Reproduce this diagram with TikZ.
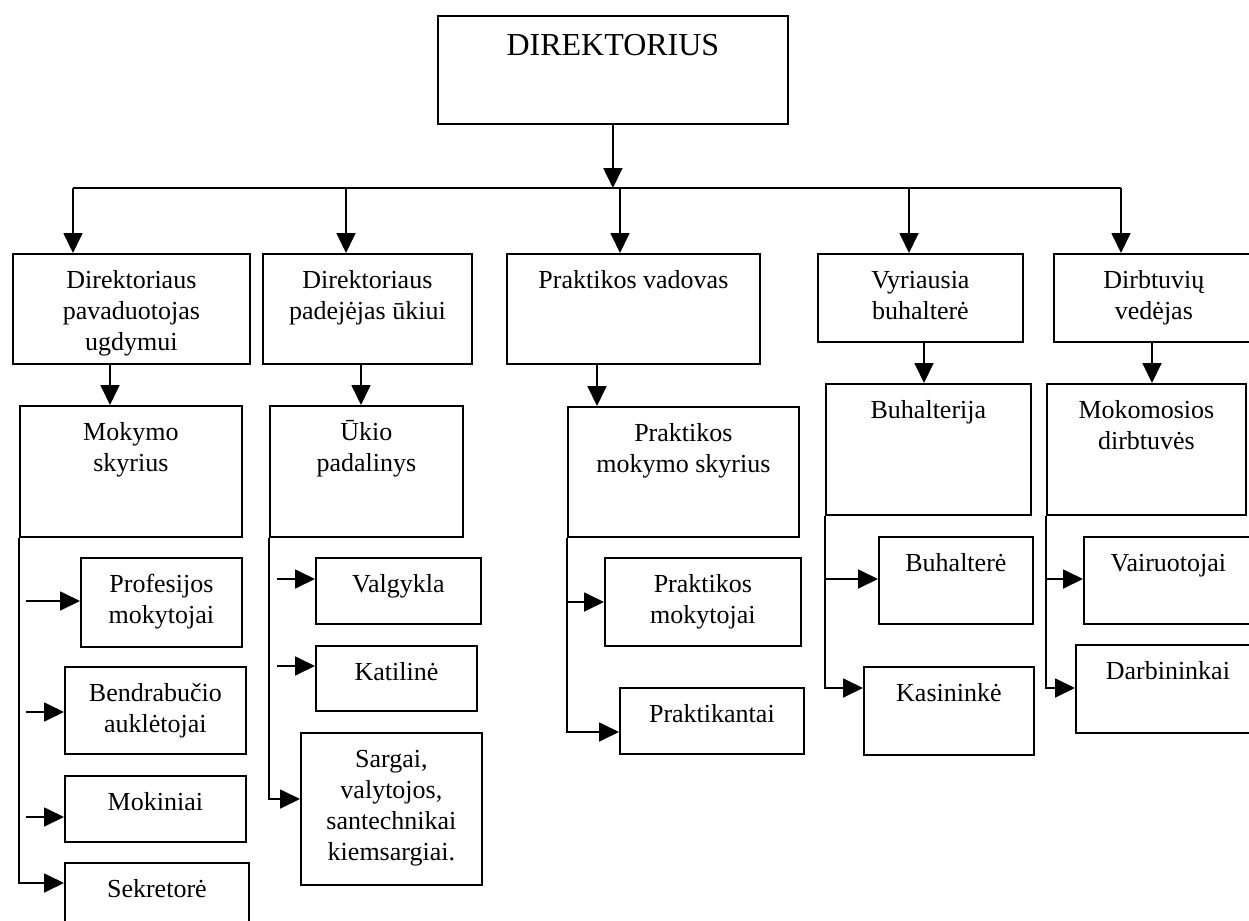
\documentclass[tikz,border=0pt]{standalone}
\usepackage{fontspec}
\setmainfont{Liberation Serif}
\usetikzlibrary{arrows.meta,calc}
\tikzset{
	unit/.style={draw, line width=0.9pt, inner sep=0pt, anchor=north west},
	lbl/.style={align=center, inner sep=0pt, anchor=north, font=\fontsize{13}{15.5}\selectfont},
	arr/.style={line width=0.9pt, -{Triangle[length=10pt, width=9.5pt]}},
	wire/.style={line width=0.9pt}
}
\def\orgbox#1#2#3#4#5#6{%
	\node[unit, minimum width={(#4-#2)*0.5pt}, minimum height={(#5-#3)*0.5pt}] (#1) at (#2,#3) {};
	\node[lbl] (#1-t) at ($(#1.north)+(0,11)$) {\rule{0pt}{12pt}#6};
}

\begin{document}
\begin{tikzpicture}[x=0.5pt, y=-0.5pt]
			%%%%% START %%%%%
			\clip (0,0) rectangle (1249,921);
			
			\node[unit, minimum width=175pt, minimum height=54pt] (dir) at (437,15) {};
			\node[lbl, anchor=base, font=\fontsize{16}{19}\selectfont] (dir-t) at ($(dir.north)+(0,40)$) {DIREKTORIUS};
			
			\orgbox{pav}{12}{253}{249}{363}{Direktoriaus\\pavaduotojas\\ugdymui}
			\orgbox{pad}{262}{253}{471}{363}{Direktoriaus\\padejėjas ūkiui}
			\orgbox{vad}{506}{253}{759}{363}{Praktikos vadovas}
			\orgbox{vyr}{817}{253}{1022}{341}{Vyriausia\\buhalterė}
			\orgbox{ved}{1053}{253}{1253}{341}{Dirbtuvių\\vedėjas}
			
			\orgbox{mok}{19}{405}{241}{536}{Mokymo\\skyrius}
			\orgbox{uki}{269}{405}{462}{536}{Ūkio\\padalinys}
			\orgbox{pms}{567}{406}{798}{536}{Praktikos\\mokymo skyrius}
			\orgbox{buh}{825}{383}{1030}{514}{Buhalterija}
			\orgbox{mdi}{1046}{383}{1245}{514}{Mokomosios\\dirbtuvės}
			
			\orgbox{pro}{80}{557}{241}{646}{Profesijos\\mokytojai}
			\orgbox{ben}{64}{666}{245}{753}{Bendrabučio\\auklėtojai}
			\orgbox{mki}{64}{775}{245}{841}{Mokiniai}
			\orgbox{sek}{64}{862}{248}{940}{Sekretorė}
			
			\orgbox{val}{315}{557}{480}{623}{Valgykla}
			\orgbox{kat}{315}{645}{476}{710}{Katilinė}
			\orgbox{sar}{300}{732}{481}{884}{Sargai,\\valytojos,\\santechnikai\\kiemsargiai.}
			
			\orgbox{pmk}{604}{557}{800}{645}{Praktikos\\mokytojai}
			\orgbox{prk}{619}{687}{803}{753}{Praktikantai}
			
			\orgbox{bhe}{878}{536}{1032}{623}{Buhalterė}
			\orgbox{kas}{863}{666}{1033}{754}{Kasininkė}
			
			\orgbox{vai}{1083}{536}{1252}{623}{Vairuotojai}
			\orgbox{dar}{1075}{644}{1259}{732}{Darbininkai}
			
			% top level
			\coordinate (bus) at (612,188);
			\coordinate (b1) at (73,188);
			\coordinate (b2) at (346,188);
			\coordinate (b3) at (620,188);
			\coordinate (b4) at (909,188);
			\coordinate (b5) at (1121,188);
			\draw[arr] (dir.south) -- (dir.south |- bus);
			\draw[wire] (b1) -- (b5);
			\foreach \b/\n in {b1/pav,b2/pad,b3/vad,b4/vyr,b5/ved}
				\draw[arr] (\b) -- (\b |- \n.north);
			
			\coordinate (c1) at (110,363);
			\coordinate (c2) at (361,363);
			\coordinate (c3) at (597,363);
			\coordinate (c4) at (924,341);
			\coordinate (c5) at (1152,341);
			\foreach \c/\n in {c1/mok,c2/uki,c3/pms,c4/buh,c5/mdi}
				\draw[arr] (\c) -- (\c |- \n.north);
			
			% leaves
			\coordinate (e1) at (26,601);
			\coordinate (e2) at (26,712);
			\coordinate (e3) at (26,817);
			\coordinate (e4) at (19,883);
			\foreach \e/\n in {e1/pro,e2/ben,e3/mki}
				\draw[arr] (\e) -- (\e -| \n.west);
			\draw[arr] (mok.south west) -- (e4) -- (e4 -| sek.west);
			
			\coordinate (f1) at (277,579);
			\coordinate (f2) at (277,666);
			\coordinate (f3) at (269,799);
			\draw[arr] (f1) -- (f1 -| val.west);
			\draw[arr] (f2) -- (f2 -| kat.west);
			\draw[arr] (uki.south west) -- (f3) -- (f3 -| sar.west);
			
			\coordinate (g1) at (567,602);
			\coordinate (g2) at (567,732);
			\draw[arr] (g1) -- (g1 -| pmk.west);
			\draw[arr] (pms.south west) -- (g2) -- (g2 -| prk.west);
			
			\coordinate (h1) at (825,579);
			\coordinate (h2) at (825,688);
			\draw[arr] (h1) -- (h1 -| bhe.west);
			\draw[arr] (buh.south west) -- (h2) -- (h2 -| kas.west);
			
			\coordinate (k1) at (1046,579);
			\coordinate (k2) at (1046,688);
			\draw[arr] (k1) -- (k1 -| vai.west);
			\draw[arr] (mdi.south west) -- (k2) -- (k2 -| dar.west);
			%%%%% END %%%%%
\end{tikzpicture}
\end{document}
